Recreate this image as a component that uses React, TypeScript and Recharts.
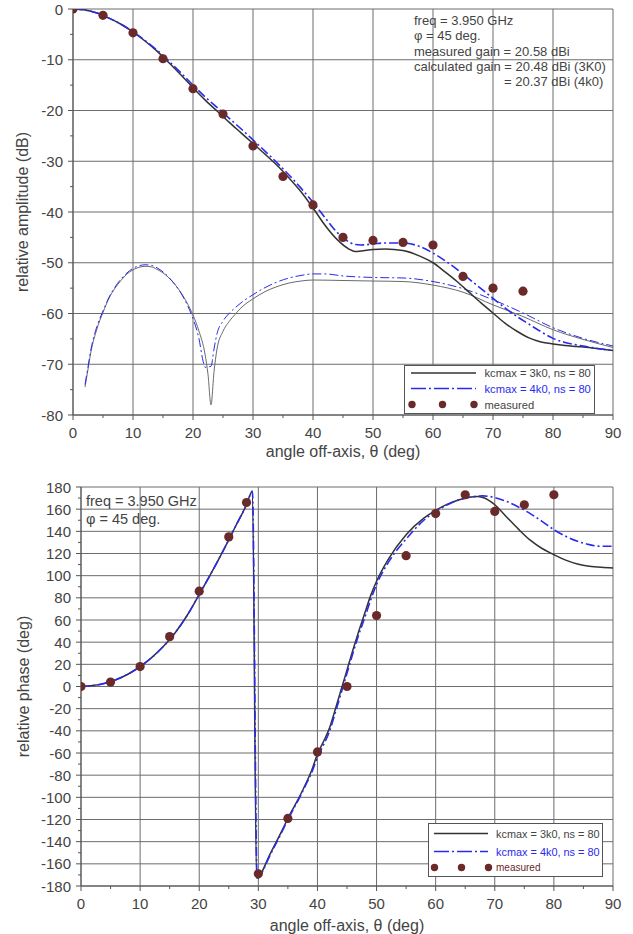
import React from 'react';
import { ComposedChart, Line, Scatter, XAxis, YAxis, CartesianGrid } from 'recharts';

// ---------- tick values ----------
const xTicksAll = [0, 5, 10, 15, 20, 25, 30, 35, 40, 45, 50, 55, 60, 65, 70, 75, 80, 85, 90];
const xTicksMajor = [0, 10, 20, 30, 40, 50, 60, 70, 80, 90];
const ampTicksAll = [0, -5, -10, -15, -20, -25, -30, -35, -40, -45, -50, -55, -60, -65, -70, -75, -80];
const ampTicksMajor = [0, -10, -20, -30, -40, -50, -60, -70, -80];
const phTicksAll = [180, 170, 160, 150, 140, 130, 120, 110, 100, 90, 80, 70, 60, 50, 40, 30, 20, 10, 0, -10, -20, -30, -40, -50, -60, -70, -80, -90, -100, -110, -120, -130, -140, -150, -160, -170, -180];
const phTicksMajor = [180, 160, 140, 120, 100, 80, 60, 40, 20, 0, -20, -40, -60, -80, -100, -120, -140, -160, -180];

// ---------- amplitude data ----------
const ampMain3k: [number, number][] = [
  [0, 0], [2, -0.2], [4, -0.8], [6, -1.8], [8, -3], [10, -4.5], [12, -6.3], [14, -8.3], [16, -10.6], [18, -13],
  [20, -15.5], [22, -17.9], [24, -20.1], [26, -22.3], [28, -24.4], [30, -26.5], [32, -28.6], [34, -30.8], [36, -33.3],
  [38, -36], [40, -39.2], [42, -42.6], [44, -45.4], [46, -47.3], [47, -47.8], [48, -47.7], [50, -47.4], [52, -47.3],
  [55, -47.6], [58, -48.8], [60, -50], [62, -51.8], [64, -53.7], [66, -55.8], [68, -57.9], [70, -59.9], [72, -61.9],
  [74, -63.5], [76, -64.8], [78, -65.6], [80, -66], [82, -66.3], [84, -66.5], [86, -66.7], [88, -67], [90, -67.3],
];
const ampMain4k: [number, number][] = [
  [0, 0], [2, -0.2], [4, -0.8], [6, -1.8], [8, -3], [10, -4.5], [12, -6.2], [14, -8.1], [16, -10.3], [18, -12.6],
  [20, -15.0], [22, -17.3], [24, -19.4], [26, -21.5], [28, -23.6], [30, -25.8], [32, -28], [34, -30.3], [36, -32.7],
  [38, -35.3], [40, -38.1], [42, -41.1], [44, -44], [46, -45.9], [47, -46.4], [48, -46.5], [50, -46.3], [52, -46.1],
  [55, -46.1], [58, -46.9], [60, -48.1], [62, -49.6], [64, -51.3], [66, -53.2], [68, -55.1], [70, -57], [72, -58.9],
  [74, -60.6], [76, -62.1], [78, -63.6], [80, -64.9], [82, -65.7], [84, -66.2], [86, -66.6], [88, -67], [90, -67.3],
];
const ampSide3k: [number, number][] = [
  [2, -74.5], [2.5, -71], [3, -67.5], [4, -63], [5, -59.8], [6, -57], [7, -55], [8, -53.5], [9, -52.2], [10, -51.4],
  [11, -50.9], [12, -50.7], [13, -50.8], [14, -51.3], [15, -52], [16, -53], [17, -54.3], [18, -55.9], [19, -57.9],
  [20, -60.3], [21, -63.5], [22, -68], [22.5, -72], [23, -78], [23.5, -71.5], [24, -67], [25, -63.5], [26, -61.6],
  [27, -60.2], [28, -58.9], [30, -57.1], [32, -55.7], [34, -54.7], [36, -54], [38, -53.6], [40, -53.4], [45, -53.5],
  [50, -53.6], [55, -53.7], [60, -54.4], [65, -55.8], [70, -58.3], [75, -60.6], [80, -63.2], [85, -65.1], [90, -66.7],
];
const ampSide4k: [number, number][] = [
  [2, -74], [2.5, -70.5], [3, -67], [4, -62.5], [5, -59.5], [6, -56.8], [7, -54.8], [8, -53.2], [9, -52], [10, -51.1],
  [11, -50.6], [12, -50.4], [13, -50.5], [14, -51], [15, -51.8], [16, -52.9], [17, -54.3], [18, -56], [19, -58.2],
  [20, -61], [21, -65], [21.7, -69.5], [22, -70.6], [23, -70.4], [23.5, -67], [24, -64], [25, -61.5], [26, -60],
  [27, -58.9], [28, -57.9], [30, -56.3], [32, -54.9], [34, -53.8], [36, -53], [38, -52.5], [40, -52.2], [42, -52.2],
  [45, -52.6], [50, -52.9], [55, -53], [60, -53.7], [65, -55.1], [70, -57.3], [75, -59.9], [80, -62.8], [85, -64.9], [90, -66.4],
];
const ampMeasX = [0, 5, 10, 15, 20, 25, 30, 35, 40, 45, 50, 55, 60, 65, 70, 75];
const ampMeasY = [0, -1.25, -4.7, -9.8, -15.7, -20.7, -27.0, -33.0, -38.6, -45.0, -45.6, -46.0, -46.5, -52.7, -55.0, -55.6];

// ---------- phase data ----------
const ph3k: [number, number][] = [
  [0, 0], [2, 0.8], [4, 2.8], [6, 6.3], [8, 11.3], [10, 18], [12, 26.3], [14, 36.5], [16, 49], [18, 64.5], [20, 83],
  [22, 102], [24, 122], [26, 143], [28, 164], [29, 176.5], [29.7, -173], [30, -172], [32, -151], [34, -130], [35, -119],
  [36, -109], [37, -99], [38, -88], [39, -76], [40, -61], [41, -50], [42, -38], [43, -21], [44, -3], [45, 15], [46, 33],
  [47, 50], [48, 66], [49, 82], [50, 95], [52, 115], [55, 137], [58, 152], [60, 159], [62, 164.5], [64, 168.5],
  [66, 171], [67, 171.5], [68, 170.5], [70, 164], [72, 153], [74, 142], [76, 132], [78, 124.5], [80, 119], [82, 114],
  [84, 110.5], [86, 108.5], [88, 107.5], [90, 107],
];
const ph4k: [number, number][] = [
  [0, 0], [2, 0.8], [4, 2.8], [6, 6.3], [8, 11.3], [10, 18], [12, 26.3], [14, 36.5], [16, 49], [18, 64.5], [20, 83],
  [22, 102], [24, 122], [26, 143], [28, 164], [29, 176], [29.8, -174], [30, -173], [32, -152], [34, -131], [35, -120],
  [36, -110], [37, -100], [38, -89], [39, -78], [40, -64], [41, -53], [42, -41], [43, -24], [44, -6], [45, 12], [46, 30],
  [47, 47], [48, 62], [49, 78], [50, 92], [52, 112], [55, 133], [58, 150], [60, 158], [62, 164], [64, 168.5],
  [66, 171], [68, 172], [70, 170.5], [72, 167], [74, 162], [76, 156], [78, 149], [80, 141.5], [82, 135.5], [84, 131],
  [86, 128], [88, 126.5], [90, 126.5],
];
const phMeasX = [0, 5, 10, 15, 20, 25, 28, 30, 35, 40, 45, 50, 55, 60, 65, 70, 75, 80];
const phMeasY = [0, 4, 18, 45, 86, 135, 166, -169, -119, -59, 0, 64, 118, 156, 173, 158, 164, 173];

// ---------- text ----------
const topNotes = [
  'freq = 3.950 GHz',
  'φ = 45 deg.',
  'measured gain = 20.58 dBi',
  'calculated gain = 20.48 dBi (3K0)',
];
const topNoteLast = '= 20.37 dBi (4k0)';
const bottomNotes = ['freq = 3.950 GHz', 'φ = 45 deg.'];
const legendLabels = ['kcmax = 3k0, ns = 80', 'kcmax = 4k0, ns = 80', 'measured'];

// ---------- styles ----------
const FONT = "'Liberation Sans', Arial, Helvetica, sans-serif";
const TXT = '#444';
const AX = '#555';
const GRID = '#6c6c6c';
const BLACK = '#333';
const THIN = '#6a6a6a';
const BLUE = '#2a2af0';
const MAROON = '#6b2a2a';
const DASH = '9 3 2 3';

const toPts = (arr: [number, number][]) => arr.map(([x, y]) => ({ x, y }));
const zipPts = (xs: number[], ys: number[]) => xs.map((x, i) => ({ x, y: ys[i] }));

function makeXTick(labelOffset: number) {
  return (props: any) => {
    const { x, y, payload } = props;
    const v = payload.value;
    const major = v % 10 === 0;
    return (
      <g>
        <line x1={x} x2={x} y1={y} y2={y + (major ? 5 : 3)} stroke={AX} strokeWidth={1} />
        {major && (
          <text x={x} y={y + labelOffset} textAnchor="middle" dominantBaseline="central" fontSize={15} fill={TXT} fontFamily={FONT}>
            {v}
          </text>
        )}
      </g>
    );
  };
}
function makeYTick(step: number) {
  return (props: any) => {
    const { x, y, payload } = props;
    const v = payload.value;
    const major = v % step === 0;
    return (
      <g>
        <line x1={x - (major ? 5 : 3)} x2={x} y1={y} y2={y} stroke={AX} strokeWidth={1} />
        {major && (
          <text x={x - 10} y={y} textAnchor="end" dominantBaseline="central" fontSize={15} fill={TXT} fontFamily={FONT}>
            {v}
          </text>
        )}
      </g>
    );
  };
}

const dot = (p: any) => <circle cx={p.cx} cy={p.cy} r={4.6} fill={MAROON} />;

function TopChart() {
  return (
    <ComposedChart width={633} height={465} margin={{ top: 9, right: 20, bottom: 0, left: 0 }}>
      <CartesianGrid stroke={GRID} verticalValues={xTicksMajor} horizontalValues={ampTicksMajor} />
      <XAxis
        type="number" dataKey="x" domain={[0, 90]} ticks={xTicksAll} interval={0} allowDataOverflow
        tick={makeXTick(17)} tickLine={false} tickSize={0} tickMargin={0} height={50}
        axisLine={{ stroke: AX }}
        label={{ value: 'angle off-axis, θ (deg)', position: 'center', dy: 11, style: { fontSize: 16, fill: TXT, fontFamily: FONT } }}
      />
      <YAxis
        type="number" dataKey="y" domain={[-80, 0]} ticks={ampTicksAll} interval={0} allowDataOverflow
        tick={makeYTick(10)} tickLine={false} tickSize={0} tickMargin={0} width={73}
        axisLine={{ stroke: AX }}
        label={{ value: 'relative amplitude (dB)', angle: -90, position: 'center', dx: -14, style: { fontSize: 16, fill: TXT, fontFamily: FONT, textAnchor: 'middle' } }}
      />
      <Line data={toPts(ampSide3k)} dataKey="y" type="monotone" stroke={THIN} strokeWidth={1} dot={false} isAnimationActive={false} />
      <Line data={toPts(ampSide4k)} dataKey="y" type="monotone" stroke={BLUE} strokeWidth={1} strokeDasharray={DASH} dot={false} isAnimationActive={false} />
      <Line data={toPts(ampMain3k)} dataKey="y" type="monotone" stroke={BLACK} strokeWidth={1.5} dot={false} isAnimationActive={false} />
      <Line data={toPts(ampMain4k)} dataKey="y" type="monotone" stroke={BLUE} strokeWidth={1.6} strokeDasharray={DASH} dot={false} isAnimationActive={false} />
      <Scatter data={zipPts(ampMeasX, ampMeasY)} dataKey="y" shape={dot} isAnimationActive={false} />
    </ComposedChart>
  );
}

function BottomChart() {
  return (
    <ComposedChart width={633} height={469} margin={{ top: 22, right: 20, bottom: 0, left: 0 }}>
      <CartesianGrid stroke={GRID} verticalValues={xTicksMajor} horizontalValues={phTicksMajor} />
      <XAxis
        type="number" dataKey="x" domain={[0, 90]} ticks={xTicksAll} interval={0} allowDataOverflow
        tick={makeXTick(17)} tickLine={false} tickSize={0} tickMargin={0} height={48}
        axisLine={{ stroke: AX }}
        label={{ value: 'angle off-axis, θ (deg)', position: 'center', dy: 15, style: { fontSize: 16, fill: TXT, fontFamily: FONT } }}
      />
      <YAxis
        type="number" dataKey="y" domain={[-180, 180]} ticks={phTicksAll} interval={0} allowDataOverflow
        tick={makeYTick(20)} tickLine={false} tickSize={0} tickMargin={0} width={81}
        axisLine={{ stroke: AX }}
        label={{ value: 'relative phase (deg)', angle: -90, position: 'center', dx: -17, style: { fontSize: 16, fill: TXT, fontFamily: FONT, textAnchor: 'middle' } }}
      />
      <Line data={toPts(ph3k)} dataKey="y" type="monotone" stroke={BLACK} strokeWidth={1.5} dot={false} isAnimationActive={false} />
      <Line data={toPts(ph4k)} dataKey="y" type="monotone" stroke={BLUE} strokeWidth={1.6} strokeDasharray={DASH} dot={false} isAnimationActive={false} />
      <Scatter data={zipPts(phMeasX, phMeasY)} dataKey="y" shape={dot} isAnimationActive={false} />
    </ComposedChart>
  );
}

function LegendBox(props: {
  left: number; top: number; width: number; height: number; rows: number[];
  x1: number; x2: number; tx: number; fs: number; fsMeas: number; measColor: string; dotsX: number[];
}) {
  const { left, top, width, height, rows, x1, x2, tx, fs, fsMeas, measColor, dotsX } = props;
  return (
    <div style={{ position: 'absolute', left, top, width, height, border: `1px solid ${AX}`, background: '#fff', boxSizing: 'border-box' }}>
      <svg width={width - 2} height={height - 2} style={{ position: 'absolute', left: 0, top: 0, overflow: 'visible' }}>
        <line x1={x1} x2={x2} y1={rows[0]} y2={rows[0]} stroke={BLACK} strokeWidth={1.5} />
        <text x={tx} y={rows[0]} dominantBaseline="central" fontSize={fs} fill={TXT} fontFamily={FONT}>{legendLabels[0]}</text>
        <line x1={x1} x2={x2} y1={rows[1]} y2={rows[1]} stroke={BLUE} strokeWidth={1.6} strokeDasharray="15 3 2 3" />
        <text x={tx} y={rows[1]} dominantBaseline="central" fontSize={fs} fill={BLUE} fontFamily={FONT}>{legendLabels[1]}</text>
        {dotsX.map((dx, i) => <circle key={i} cx={dx} cy={rows[2]} r={3.7} fill={MAROON} />)}
        <text x={tx} y={rows[2]} dominantBaseline="central" fontSize={fsMeas} fill={measColor} fontFamily={FONT}>{legendLabels[2]}</text>
      </svg>
    </div>
  );
}

export default function App() {
  return (
    <div style={{ position: 'absolute', left: 0, top: 0, width: 633, height: 934, background: '#fff', fontFamily: FONT }}>
      <div style={{ position: 'absolute', left: 0, top: 0 }}>
        <TopChart />
      </div>
      <div style={{ position: 'absolute', left: 0, top: 465 }}>
        <BottomChart />
      </div>
      <div style={{ position: 'absolute', left: 414, top: 13, fontSize: 13, lineHeight: '15.3px', color: TXT, whiteSpace: 'pre' }}>
        {topNotes.map((t, i) => <div key={i}>{t}</div>)}
        <div style={{ paddingLeft: 90 }}>{topNoteLast}</div>
      </div>
      <div style={{ position: 'absolute', left: 86, top: 492, fontSize: 14.5, lineHeight: '18.3px', color: TXT, whiteSpace: 'pre' }}>
        {bottomNotes.map((t, i) => <div key={i}>{t}</div>)}
      </div>
      <LegendBox left={404} top={365} width={191} height={49} rows={[7, 22.5, 38.5]} x1={6} x2={71} tx={79.5}
        fs={11.2} fsMeas={11.2} measColor={TXT} dotsX={[7, 37.5, 69]} />
      <LegendBox left={428} top={823} width={175} height={54} rows={[9.5, 27.5, 43.5]} x1={5} x2={59} tx={67}
        fs={10.9} fsMeas={10} measColor={MAROON} dotsX={[5.5, 32.5, 59.5]} />
    </div>
  );
}
